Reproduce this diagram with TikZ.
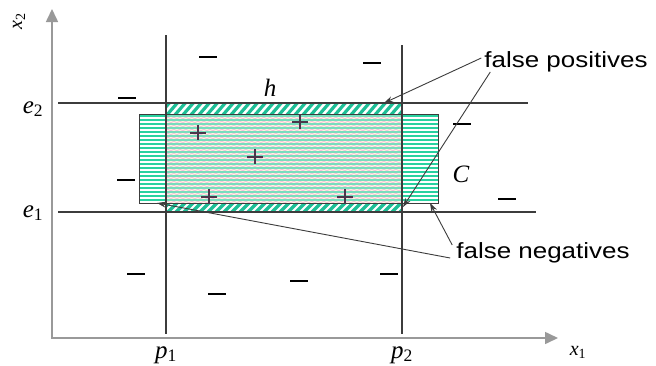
\documentclass[tikz,border=0pt]{standalone}
\usepackage{fontspec}
\setmainfont{Liberation Serif}
\newfontfamily\arialf{Liberation Sans}
\usetikzlibrary{arrows.meta,decorations.pathmorphing}
\definecolor{hatchgreen}{RGB}{30,190,150}
\definecolor{stripegreen}{RGB}{40,210,160}
\definecolor{stripelight}{RGB}{120,222,190}
\definecolor{pinkw}{RGB}{245,195,220}
\definecolor{inneryel}{RGB}{255,251,222}
\definecolor{pluscol}{RGB}{75,55,75}
\definecolor{gridline}{RGB}{60,60,60}
\tikzset{
  axis/.style={draw=black!40, line width=1.6pt, -{Triangle[length=13pt,width=12pt]}, shorten >=0pt},
  guide/.style={draw=gridline, line width=1.1pt},
  callout/.style={draw=gridline, line width=0.9pt, -{Stealth[length=9pt,width=6pt]}},
  minus/.style={draw=black, line width=2.2pt},
  plusmark/.style={draw=pluscol, line width=1.6pt},
  mathlbl/.style={inner sep=0pt, font=\fontsize{25}{27}\selectfont},
  smalllbl/.style={inner sep=0pt, font=\fontsize{20}{22}\selectfont},
  sanslbl/.style={inner sep=0pt, font=\arialf\fontsize{22}{24}\selectfont},
  outline/.style={draw=gridline, line width=0.9pt},
  cstripe/.style={draw=stripegreen, line width=2pt},
  istripe/.style={draw=stripelight, line width=1.6pt},
  wave/.style={draw=pinkw, line width=0.9pt, decorate, decoration={snake, amplitude=0.7pt, segment length=6pt}},
}
\newcommand\mlbl[2]{\textit{#1}\textsubscript{#2}}
\begin{document}
\begin{tikzpicture}[x=1pt,y=-1pt]
\useasboundingbox (0,0) rectangle (656,365);
\fill[white] (0,0) rectangle (656,365);
% region C
\fill[white] (139,114) rectangle (438,203);
\fill[inneryel] (166,114) rectangle (402,203);
\begin{scope}
\clip (139,114) rectangle (438,203);
\foreach \yy in {118,122,...,203} {
  \path[wave] (166,\yy) -- (402,\yy);
}
\foreach \yy in {116,120,...,203} {
  \path[cstripe] (139,\yy) -- (166,\yy);
  \path[istripe] (166,\yy) -- (402,\yy);
  \path[cstripe] (402,\yy) -- (438,\yy);
}
\end{scope}
\node[outline, minimum width=299pt, minimum height=89pt, inner sep=0pt] (C) at (288.5,158.5) {};
% hatched strips
\foreach \ya/\yb in {103/114, 203/212} {
  \begin{scope}
  \clip (166,\ya) rectangle (402,\yb);
  \foreach \x in {150,158,...,420} {
    \draw[hatchgreen, line width=3.2pt] (\x,\yb+2) -- (\x+13,\ya-2);
  }
  \end{scope}
  \draw[outline] (166,\ya) rectangle (402,\yb);
}
% guide lines
\coordinate (e2a) at (58,103); \coordinate (e2b) at (528,103);
\coordinate (e1a) at (58,212); \coordinate (e1b) at (536,212);
\coordinate (p1a) at (166,35); \coordinate (p1b) at (166,334);
\coordinate (p2a) at (402,45); \coordinate (p2b) at (402,334);
\draw[guide] (e2a) -- (e2b);
\draw[guide] (e1a) -- (e1b);
\draw[guide] (p1a) -- (p1b);
\draw[guide] (p2a) -- (p2b);
% axes
\coordinate (O) at (52,338);
\coordinate (ytop) at (52,9);
\coordinate (xend) at (558,338);
\draw[axis] (O) -- (ytop);
\draw[axis] ([xshift=-0.8pt]O) -- (xend);
% labels
\node[smalllbl, rotate=90] (x2) at (19,21) {\mlbl{x}{2}};
\node[smalllbl] (x1) at (578,352) {\mlbl{x}{1}};
\node[mathlbl] (e2) at (33,109) {\mlbl{e}{2}};
\node[mathlbl] (e1) at (33,213) {\mlbl{e}{1}};
\node[mathlbl] (p1) at (166,355) {\mlbl{p}{1}};
\node[mathlbl] (p2) at (402,355) {\mlbl{p}{2}};
\node[mathlbl] (h) at (270,88) {\textit{h}};
\node[mathlbl] (Clbl) at (461,174) {\textit{C}};
% minus signs
\foreach \x/\y in {208/57, 372/63, 127/98, 462/124, 126/180, 507/199, 136/274, 217/294, 299/281, 389/274} {
  \draw[minus] (\x-9,\y) -- (\x+9,\y);
}
% plus signs
\foreach \x/\y in {198/133, 300/122, 255/157, 209/197, 345/197} {
  \draw[plusmark] (\x-8,\y) -- (\x+8,\y);
  \draw[plusmark] (\x,\y-8) -- (\x,\y+7);
}
% callouts
\node[sanslbl] (fp) at (566,62) {\scalebox{1.18}[1]{false positives}};
\node[sanslbl] (fn) at (543,253) {\scalebox{1.18}[1]{false negatives}};
\coordinate (fpt1) at (384,103);
\coordinate (fpt2) at (403,207);
\coordinate (fnt1) at (157,203);
\coordinate (fnt2) at (430,203);
\draw[callout] ([xshift=-3pt,yshift=4pt]fp.west) -- (fpt1);
\draw[callout] ([xshift=6pt,yshift=-10pt]fp.west) -- (fpt2);
\draw[callout] ([xshift=-6pt,yshift=-5pt]fn.west) -- (fnt1);
\draw[callout] ([xshift=-4pt,yshift=8pt]fn.west) -- (fnt2);
\end{tikzpicture}
\end{document}
